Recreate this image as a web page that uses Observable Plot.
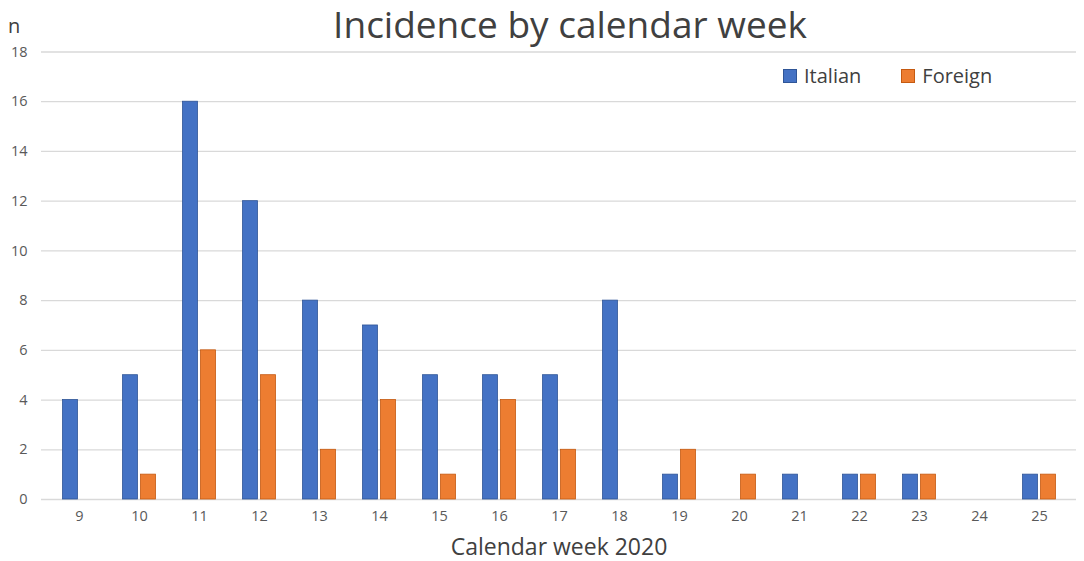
<!DOCTYPE html>
<html>
<head>
<meta charset="utf-8">
<script src="https://cdn.jsdelivr.net/npm/d3@7"></script>
<script src="https://cdn.jsdelivr.net/npm/@observablehq/plot@0.6"></script>
<style>
  html, body { margin: 0; padding: 0; background: #fff; }
  #wrap { position: relative; width: 1084px; height: 561px; font-family: "Open Sans", "Noto Sans", sans-serif; color: #404040; }
  .abs { position: absolute; white-space: nowrap; line-height: 1.2; }
  #title { left: 570px; top: 2px; transform: translateX(-50%); font-size: 37px; }
  #nlab { left: 8px; top: 14px; font-size: 20px; color: #404040; }
  #xlab { left: 559px; top: 533px; transform: translateX(-50%); font-size: 23px; }
  #legend { left: 783px; top: 64px; font-size: 20px; display: flex; align-items: center; }
  .sw { display: inline-block; width: 12px; height: 12px; margin-right: 7px; }
</style>
</head>
<body>
<div id="wrap">
  <div id="chart"></div>
  <div class="abs" id="title">Incidence by calendar week</div>
  <div class="abs" id="nlab">n</div>
  <div class="abs" id="xlab">Calendar week 2020</div>
  <div class="abs" id="legend">
    <span class="sw" style="background:#4472C4;border:1px solid #2F5597"></span><span>Italian</span>
    <span class="sw" style="background:#ED7D31;border:1px solid #C55A11;margin-left:40px"></span><span>Foreign</span>
  </div>
</div>
<script>
const weeks = [9,10,11,12,13,14,15,16,17,18,19,20,21,22,23,24,25];
const italian = [4,5,16,12,8,7,5,5,5,8,1,0,1,1,1,0,1];
const foreign = [0,1,6,5,2,4,1,4,2,0,2,1,0,1,1,0,1];
const yTicks = [0,2,4,6,8,10,12,14,16,18];

const dataIt = weeks.map((w, i) => ({week: w, n: italian[i]})).filter(d => d.n > 0);
const dataFo = weeks.map((w, i) => ({week: w, n: foreign[i]})).filter(d => d.n > 0);

const chart = Plot.plot({
  width: 1084,
  height: 561,
  marginLeft: 41,
  marginRight: 8,
  marginTop: 51.5,
  marginBottom: 62,
  style: {fontFamily: "'Open Sans', 'Noto Sans', sans-serif", background: "#fff"},
  x: {type: "band", domain: weeks, padding: 0},
  y: {domain: [0, 18]},
  marks: [
    Plot.ruleY(yTicks, {stroke: "#d9d9d9", strokeWidth: 1.3}),
    Plot.axisY(yTicks, {label: null, tickSize: 0, tickPadding: 14, fontSize: 14.5, fill: "#595959"}),
    Plot.axisX({label: null, tickSize: 0, tickPadding: 11, fontSize: 14.5, fill: "#595959"}),
    Plot.barY(dataIt, {x: "week", y: "n", fill: "#4472C4", stroke: "#2F5597", strokeWidth: 0.8, insetLeft: 13.5, insetRight: 31.5}),
    Plot.barY(dataFo, {x: "week", y: "n", fill: "#ED7D31", stroke: "#C55A11", strokeWidth: 0.8, insetLeft: 31.5, insetRight: 13.5})
  ]
});
document.getElementById("chart").appendChild(chart);
</script>
</body>
</html>
